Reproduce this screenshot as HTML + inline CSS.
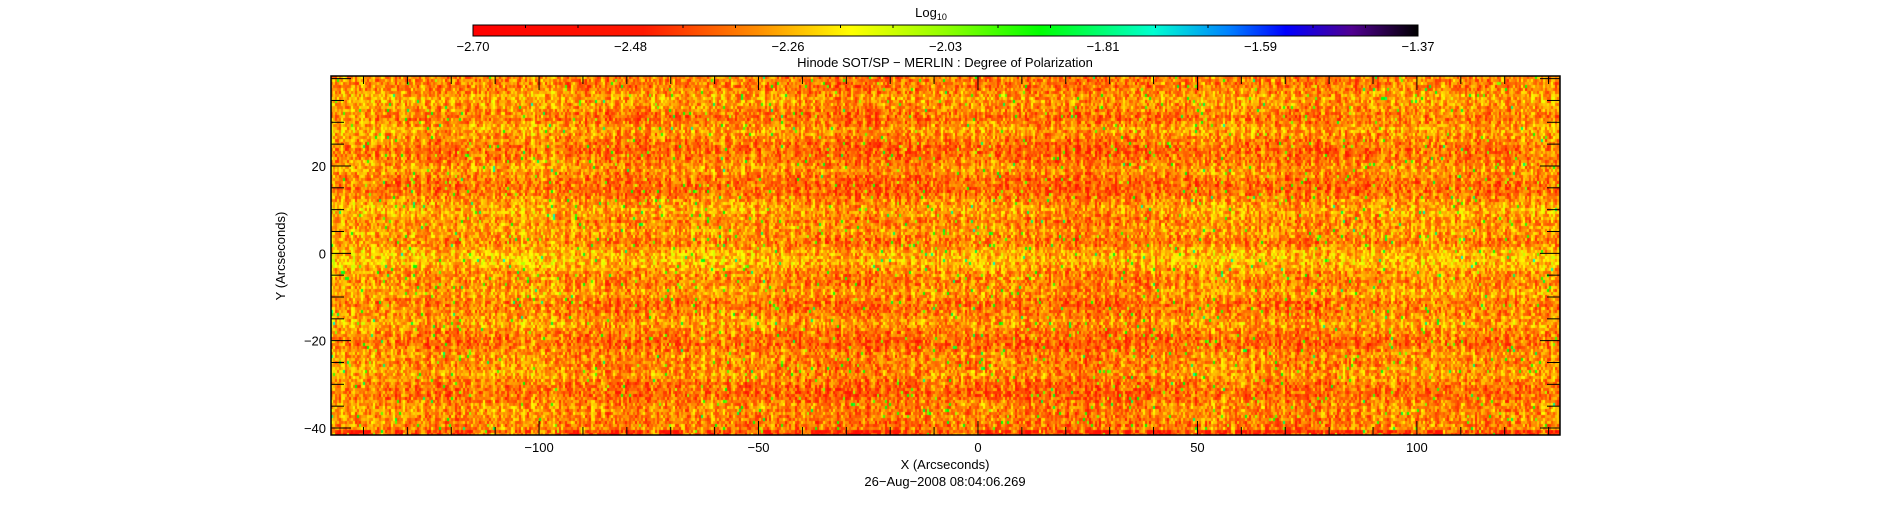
<!DOCTYPE html>
<html><head><meta charset="utf-8"><style>
body{margin:0;background:#fff;width:1891px;height:512px;overflow:hidden;position:relative;font-family:"Liberation Sans",sans-serif}
#hm{position:absolute;left:331px;top:76px}
svg{position:absolute;left:0;top:0}
text{font-family:"Liberation Sans",sans-serif;font-size:13px;fill:#000}
</style></head><body>
<canvas id="hm" width="1229" height="359"></canvas>
<svg id="s" width="1891" height="512">
<defs><linearGradient id="cg" x1="0" x2="1" y1="0" y2="0">
<stop offset="0" stop-color="#ff0000"/><stop offset="0.18" stop-color="#ff1800"/><stop offset="0.3" stop-color="#ff8c00"/><stop offset="0.4" stop-color="#ffff00"/><stop offset="0.5" stop-color="#90ff00"/><stop offset="0.6" stop-color="#00ff00"/><stop offset="0.72" stop-color="#00ffd0"/><stop offset="0.8" stop-color="#0080ff"/><stop offset="0.86" stop-color="#0000ff"/><stop offset="0.93" stop-color="#500090"/><stop offset="1" stop-color="#000"/>
</linearGradient></defs>
<text x="931" y="17" text-anchor="middle">Log<tspan font-size="9" dy="3">10</tspan></text>
<rect x="473" y="25" width="945" height="11" fill="url(#cg)" stroke="#000" stroke-width="1"/>
<g id="cb"></g>
<text x="945" y="67" text-anchor="middle" font-size="14">Hinode SOT/SP − MERLIN : Degree of Polarization</text>
<g id="ax"></g>
<text x="945" y="469" text-anchor="middle">X (Arcseconds)</text>
<text x="945" y="486" text-anchor="middle">26−Aug−2008 08:04:06.269</text>
<text transform="translate(285,256) rotate(-90)" text-anchor="middle">Y (Arcseconds)</text>
</svg>
<script>
const cbLabels=["−2.70","−2.48","−2.26","−2.03","−1.81","−1.59","−1.37"];
const xTicks=[-100,-50,0,50,100];
const yTicks=[-40,-20,0,20];
// estimated band levels (0..1 colormap fraction), top to bottom
const rowLevels=[0.285,0.275,0.315,0.295,0.265,0.315,0.285,0.255,0.275,0.305,0.265,0.255,0.295,0.325,0.285,0.315,0.275,0.325,0.345,0.295,0.285,0.315,0.265,0.285,0.315,0.275,0.255,0.295,0.285,0.305,0.265,0.255,0.295,0.285,0.275,0.315];
const colLevels=[0.02,0.01,0.0,0.01,0.02,0.0,-0.01,0.0,0.01,0.0,-0.01,-0.02,-0.01,0.0,0.0,-0.01,-0.02,-0.01,0.0,0.01,0.0,-0.01,0.0,0.01,0.01,0.0,0.01,0.02];
const X0=-147.4,X1=132.6,Y0=-41.6,Y1=40.6,L=331,R=1560,T=76,B=435;
const sx=v=>L+(v-X0)/(X1-X0)*(R-L), sy=v=>B-(v-Y0)/(Y1-Y0)*(B-T);
const NS="http://www.w3.org/2000/svg";
function mk(t,a,p){const e=document.createElementNS(NS,t);for(const k in a)e.setAttribute(k,a[k]);p.appendChild(e);return e;}
const cb=document.getElementById('cb');
cbLabels.forEach((s,i)=>{const x=473+i*945/(cbLabels.length-1);
 const t=mk('text',{x:x,y:51,'text-anchor':'middle'},cb);t.textContent=s;
 
 
 if(i<cbLabels.length-1){for(let j=1;j<3;j++){const xx=x+j*945/(cbLabels.length-1)/3;mk('line',{x1:xx,x2:xx,y1:25,y2:28,stroke:'#000'},cb);}}});
const ax=document.getElementById('ax');
mk('rect',{x:L,y:T,width:R-L,height:B-T,fill:'none',stroke:'#000','stroke-width':1.5},ax);
for(let v=-140;v<=130;v+=10){const x=sx(v),maj=v%50==0,len=maj?14:8;
 mk('line',{x1:x,x2:x,y1:B,y2:B-len,stroke:'#000'},ax);mk('line',{x1:x,x2:x,y1:T,y2:T+len,stroke:'#000'},ax);}
for(let v=-40;v<=40;v+=5){const y=sy(v),maj=v%20==0,len=maj?20:13;
 mk('line',{x1:L,x2:L+len,y1:y,y2:y,stroke:'#000'},ax);mk('line',{x1:R,x2:R-len,y1:y,y2:y,stroke:'#000'},ax);}
xTicks.forEach(v=>{const t=mk('text',{x:sx(v),y:452,'text-anchor':'middle'},ax);t.textContent=v<0?'−'+(-v):v;
 
 });
yTicks.forEach(v=>{const t=mk('text',{x:L-5,y:sy(v)+5,'text-anchor':'end'},ax);t.textContent=v<0?'−'+(-v):v;
 
 });
const stops=[[0,[255,0,0]],[0.18,[255,24,0]],[0.3,[255,140,0]],[0.4,[255,255,0]],[0.5,[144,255,0]],[0.6,[0,255,0]],[0.72,[0,255,208]],[0.8,[0,128,255]],[0.86,[0,0,255]],[0.93,[80,0,144]],[1,[0,0,0]]];
function cmap(v){v=Math.max(0,Math.min(1,v));for(let i=1;i<stops.length;i++){if(v<=stops[i][0]){const a=stops[i-1],b=stops[i],f=(v-a[0])/(b[0]-a[0]);return a[1].map((c,k)=>Math.round(c+(b[1][k]-c)*f));}}return [0,0,0];}
function h(a,b){let n=(a*374761393+b*668265263)|0;n=(n^(n>>>13))*1274126177|0;return ((n^(n>>>16))>>>0)/4294967296;}
const cv=document.getElementById('hm'),ctx=cv.getContext('2d'),W=cv.width,H=cv.height;
const img=ctx.createImageData(W,H);
const cw=2,ch=3;
for(let j=0;j<H;j+=ch){const rf=j/H*(rowLevels.length-1),ri=Math.floor(rf),rt=rf-ri;
 const rl=rowLevels[ri]*(1-rt)+rowLevels[Math.min(ri+1,rowLevels.length-1)]*rt;
 for(let i=0;i<W;i+=cw){const cf=i/W*(colLevels.length-1),ci=Math.floor(cf);
  const cl=colLevels[ci];
  const stripe=((i%10)<4?0.03:-0.015);
  let v=rl+cl+stripe+(h(i,j)-0.5)*0.16;
  if(h(i+7,j+3)>0.98)v+=0.28;
  if(j>H-8)v-=0.18*h(i>>3,1);
  const c=cmap(v);
  for(let y=j;y<j+ch&&y<H;y++)for(let x=i;x<i+cw&&x<W;x++){const p=(y*W+x)*4;img.data[p]=c[0];img.data[p+1]=c[1];img.data[p+2]=c[2];img.data[p+3]=255;}
 }}
ctx.putImageData(img,0,0);
</script>
</body></html>
